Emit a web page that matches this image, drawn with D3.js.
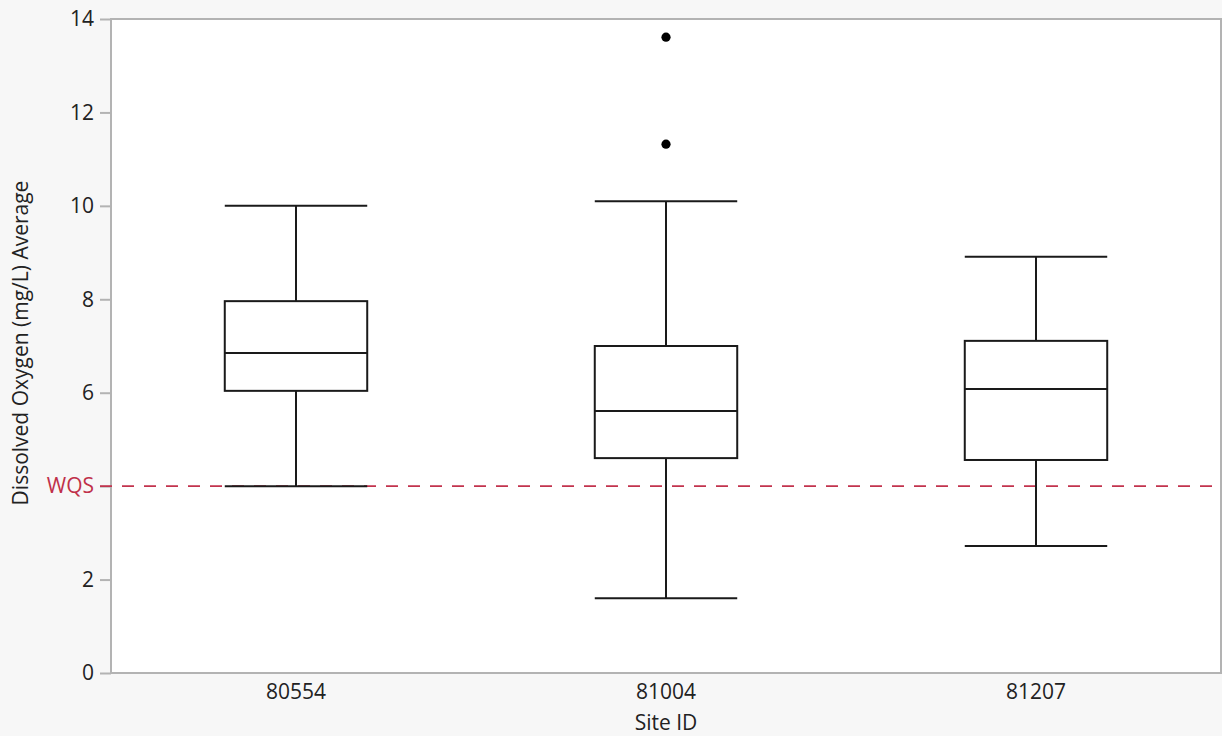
<!DOCTYPE html>
<html>
<head>
<meta charset="utf-8">
<script src="https://cdn.jsdelivr.net/npm/d3@7"></script>
<style>
  html, body { margin: 0; padding: 0; background: #f7f7f7; }
  svg { display: block; }
  text { font-family: "Open Sans", "Noto Sans", sans-serif; }
</style>
</head>
<body>
<svg id="chart" width="1222" height="736"></svg>
<script>
// Dissolved oxygen box plot summaries per site
const sites = ["80554", "81004", "81207"];
const whiskerLow  = [4.0, 1.6, 2.72];
const q1          = [6.04, 4.6, 4.56];
const median      = [6.85, 5.61, 6.08];
const q3          = [7.96, 7.0, 7.11];
const whiskerHigh = [10.0, 10.1, 8.91];
const outliers    = [[], [11.32, 13.61], []];
const yTicks      = [0, 2, 4, 6, 8, 10, 12, 14];
const yTickLabels = ["0", "2", "", "6", "8", "10", "12", "14"];
const wqsValue = 4.0;
const wqsLabel = "WQS";

const svg = d3.select("#chart");
const W = 1222, H = 736;
const margin = { top: 19, right: 1, bottom: 63, left: 111 };
const innerW = W - margin.left - margin.right;
const innerH = H - margin.top - margin.bottom;
const textColor = "#222";
const fontPx = "21px";

const x = d3.scaleBand().domain(sites).range([margin.left, margin.left + innerW]);
const y = d3.scaleLinear().domain([0, 14]).range([margin.top + innerH, margin.top]);

// plot area
svg.append("rect")
  .attr("x", margin.left).attr("y", margin.top)
  .attr("width", innerW).attr("height", innerH)
  .attr("fill", "#fff")
  .attr("stroke", "#b3b3b3").attr("stroke-width", 2);

// y axis (the WQS label takes the place of the 4 label)
const yAxis = svg.append("g")
  .attr("transform", `translate(${margin.left},0)`)
  .call(d3.axisLeft(y).tickValues(yTicks).tickSize(11).tickPadding(6)
    .tickFormat((d, i) => yTickLabels[i]));
yAxis.select(".domain").remove();
yAxis.selectAll(".tick line").attr("stroke", "#b3b3b3").attr("stroke-width", 2);
yAxis.selectAll(".tick text").style("font-size", fontPx).style("fill", textColor);

// x axis labels
const xAxis = svg.append("g")
  .attr("transform", `translate(0,${margin.top + innerH})`)
  .call(d3.axisBottom(x).tickSize(0).tickPadding(11));
xAxis.select(".domain").remove();
xAxis.selectAll(".tick text").style("font-size", fontPx).style("fill", textColor);

// axis titles
svg.append("text")
  .attr("x", margin.left + innerW / 2).attr("y", 730)
  .attr("text-anchor", "middle")
  .style("font-size", fontPx).style("fill", textColor)
  .text("Site ID");

svg.append("text")
  .attr("transform", `translate(28,343) rotate(-90)`)
  .attr("text-anchor", "middle")
  .style("font-size", fontPx).style("fill", textColor)
  .text("Dissolved Oxygen (mg/L) Average");

// reference line
svg.append("line")
  .attr("x1", 100).attr("x2", margin.left + innerW)
  .attr("y1", y(wqsValue)).attr("y2", y(wqsValue))
  .attr("stroke", "#c2334d").attr("stroke-width", 1.6)
  .attr("stroke-dasharray", "12,10");
svg.append("text")
  .attr("x", 94).attr("y", y(wqsValue))
  .attr("dy", "0.35em")
  .attr("text-anchor", "end")
  .style("font-size", fontPx)
  .style("fill", "#c0304a")
  .text(wqsLabel);

// boxes
const boxW = x.bandwidth() * 0.385;
const stroke = "#1a1a1a";
const g = svg.append("g");
sites.forEach((s, i) => {
  const cx = x(s) + x.bandwidth() / 2;
  const b = g.append("g").attr("fill", "none").attr("stroke", stroke).attr("stroke-width", 2);
  // whiskers
  b.append("line").attr("x1", cx).attr("x2", cx).attr("y1", y(whiskerHigh[i])).attr("y2", y(q3[i]));
  b.append("line").attr("x1", cx).attr("x2", cx).attr("y1", y(q1[i])).attr("y2", y(whiskerLow[i]));
  // caps
  b.append("line").attr("x1", cx - boxW / 2).attr("x2", cx + boxW / 2)
    .attr("y1", y(whiskerHigh[i])).attr("y2", y(whiskerHigh[i]));
  b.append("line").attr("x1", cx - boxW / 2).attr("x2", cx + boxW / 2)
    .attr("y1", y(whiskerLow[i])).attr("y2", y(whiskerLow[i]));
  // box
  b.append("rect").attr("x", cx - boxW / 2).attr("y", y(q3[i]))
    .attr("width", boxW).attr("height", y(q1[i]) - y(q3[i]))
    .attr("fill", "#fff");
  // median
  b.append("line").attr("x1", cx - boxW / 2).attr("x2", cx + boxW / 2)
    .attr("y1", y(median[i])).attr("y2", y(median[i]));
  // outliers
  outliers[i].forEach(v => {
    g.append("circle").attr("cx", cx).attr("cy", y(v)).attr("r", 4.6).attr("fill", "#000");
  });
});
</script>
</body>
</html>
